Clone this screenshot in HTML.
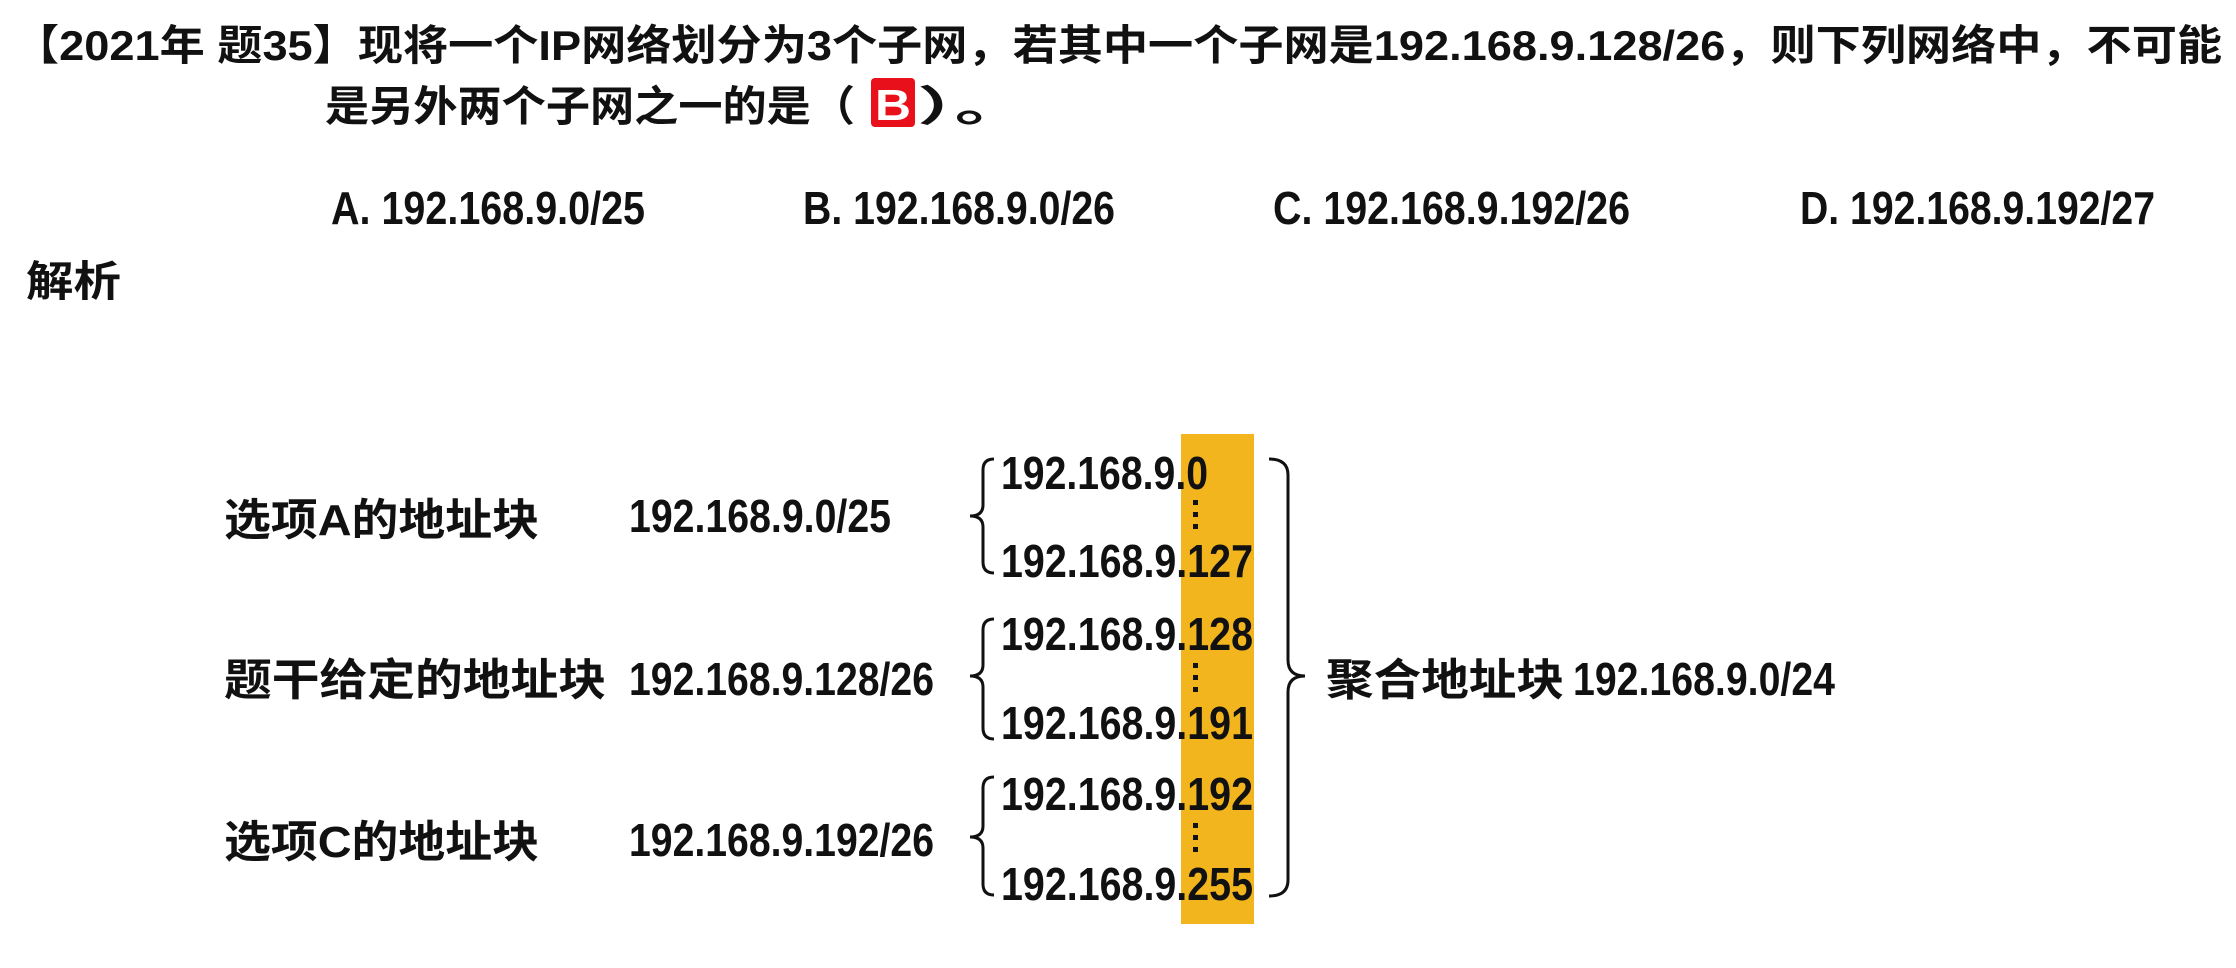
<!DOCTYPE html>
<html><head><meta charset="utf-8"><style>html,body{margin:0;padding:0;background:#fff;width:2236px;height:968px;overflow:hidden}</style></head>
<body>
<svg width="2236" height="968" viewBox="0 0 2236 968" xmlns="http://www.w3.org/2000/svg" font-family="'Liberation Sans','Noto Sans CJK SC',sans-serif" font-weight="bold" fill="#111">
<rect x="1181" y="434" width="73" height="490" fill="#f2b51e"/>
<text x="14" y="60" font-size="42" textLength="2208" lengthAdjust="spacingAndGlyphs">【2021年 题35】现将一个IP网络划分为3个子网，若其中一个子网是192.168.9.128/26，则下列网络中，不可能</text>
<text x="325" y="121" font-size="42" textLength="530" lengthAdjust="spacingAndGlyphs">是另外两个子网之一的是（</text>
<rect x="871" y="78" width="44" height="49" rx="4" fill="#e8101a"/>
<text x="875" y="120" font-size="44" fill="#fff" textLength="36" lengthAdjust="spacingAndGlyphs">B</text>
<text x="917" y="121" font-size="42" textLength="113" lengthAdjust="spacingAndGlyphs">）。</text>
<g font-size="46">
<text x="331" y="224" textLength="314" lengthAdjust="spacingAndGlyphs">A. 192.168.9.0/25</text>
<text x="803" y="224" textLength="312" lengthAdjust="spacingAndGlyphs">B. 192.168.9.0/26</text>
<text x="1273" y="224" textLength="357" lengthAdjust="spacingAndGlyphs">C. 192.168.9.192/26</text>
<text x="1800" y="224" textLength="355" lengthAdjust="spacingAndGlyphs">D. 192.168.9.192/27</text>
</g>
<text x="26" y="296" font-size="42" textLength="95" lengthAdjust="spacingAndGlyphs">解析</text>
<g font-size="44">
<text x="224" y="535" textLength="315" lengthAdjust="spacingAndGlyphs">选项A的地址块</text>
<text x="224" y="695" textLength="382" lengthAdjust="spacingAndGlyphs">题干给定的地址块</text>
<text x="224" y="857" textLength="315" lengthAdjust="spacingAndGlyphs">选项C的地址块</text>
<text x="1326" y="695" textLength="238" lengthAdjust="spacingAndGlyphs">聚合地址块</text>
</g>
<g font-size="46">
<text x="629" y="532" textLength="262" lengthAdjust="spacingAndGlyphs">192.168.9.0/25</text>
<text x="629" y="695" textLength="305" lengthAdjust="spacingAndGlyphs">192.168.9.128/26</text>
<text x="629" y="856" textLength="305" lengthAdjust="spacingAndGlyphs">192.168.9.192/26</text>
<text x="1573" y="695" textLength="262" lengthAdjust="spacingAndGlyphs">192.168.9.0/24</text>
<text x="1001" y="489" textLength="207" lengthAdjust="spacingAndGlyphs">192.168.9.0</text>
<text x="1001" y="577" textLength="252" lengthAdjust="spacingAndGlyphs">192.168.9.127</text>
<text x="1001" y="650" textLength="252" lengthAdjust="spacingAndGlyphs">192.168.9.128</text>
<text x="1001" y="739" textLength="252" lengthAdjust="spacingAndGlyphs">192.168.9.191</text>
<text x="1001" y="810" textLength="252" lengthAdjust="spacingAndGlyphs">192.168.9.192</text>
<text x="1001" y="900" textLength="252" lengthAdjust="spacingAndGlyphs">192.168.9.255</text>
</g>
<g fill="#111">
<rect x="1193" y="500" width="5" height="5"/><rect x="1193" y="512" width="5" height="5"/><rect x="1193" y="524" width="5" height="5"/>
<rect x="1193" y="663" width="5" height="5"/><rect x="1193" y="675" width="5" height="5"/><rect x="1193" y="687" width="5" height="5"/>
<rect x="1193" y="823" width="5" height="5"/><rect x="1193" y="835" width="5" height="5"/><rect x="1193" y="847" width="5" height="5"/>
</g>
<g fill="none" stroke="#111" stroke-width="3">
<path d="M994 459 Q983 459 983 470 L983 505 Q983 516 970 516 Q983 516 983 527 L983 562 Q983 573 994 573"/>
<path d="M994 619 Q983 619 983 630 L983 665 Q983 676 970 676 Q983 676 983 687 L983 728 Q983 739 994 739"/>
<path d="M994 777 Q983 777 983 788 L983 826 Q983 837 970 837 Q983 837 983 848 L983 884 Q983 895 994 895"/>
<path d="M1269 459 Q1288 459 1288 475 L1288 660 Q1288 676 1305 676 Q1288 676 1288 692 L1288 880 Q1288 896 1269 896"/>
</g>
</svg>
</body></html>
